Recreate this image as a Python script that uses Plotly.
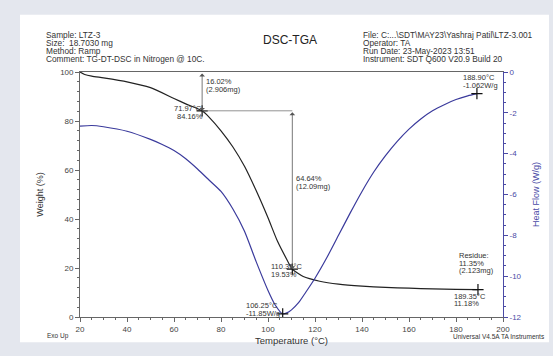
import plotly.graph_objects as go

# ---------------- data ----------------
tga_temp = [20, 22, 25, 30, 40, 50, 60, 65, 71.97, 75, 80, 85, 90, 95, 100, 104, 108, 110.35,
            115, 122, 130, 140, 150, 160, 170, 180, 189.35]
tga_weight = [100, 99.0, 98.3, 97.6, 96.0, 93.6, 89.2, 87.0, 84.16, 81.5, 76.0, 69.5, 61.5, 51.5,
              40.5, 31, 23.5, 19.53, 16.5, 14.6, 13.4, 12.6, 12.1, 11.75, 11.5, 11.3, 11.18]

dsc_temp = [20, 25, 30, 40, 50, 55, 60, 65, 70, 75, 80, 85, 90, 95, 100, 103, 106.25,
            108, 110, 113, 116, 120, 125, 130, 135, 140, 145, 150, 155, 160, 165, 170, 175,
            180, 185, 188.9]
dsc_flow = [-2.65, -2.62, -2.68, -2.9, -3.3, -3.55, -3.85, -4.25, -4.75, -5.3, -5.85, -6.7,
            -7.8, -9.3, -10.7, -11.4, -11.85, -11.8, -11.65, -11.3, -10.8, -10.1, -9.1, -8.0,
            -6.9, -5.85, -4.9, -4.1, -3.4, -2.8, -2.3, -1.9, -1.6, -1.35, -1.17, -1.062]

tga_mark_t = [71.97, 110.35, 189.35]
tga_mark_w = [84.16, 19.53, 11.18]
dsc_mark_t = [106.25, 188.9]
dsc_mark_h = [-11.85, -1.062]

x_ticks = [20, 40, 60, 80, 100, 120, 140, 160, 180, 200]
y_ticks = [0, 20, 40, 60, 80, 100]
y2_ticks = [0, -2, -4, -6, -8, -10, -12]
y2_labels = ["0", "-2", "-4", "-6", "-8", "-10", "-12"]

header_left = ["Sample: LTZ-3", "Size:  18.7030 mg", "Method: Ramp",
               "Comment: TG-DT-DSC in Nitrogen @ 10C."]
header_right = ["File: C:...\\SDT\\MAY23\\Yashraj Patil\\LTZ-3.001", "Operator: TA",
                "Run Date: 23-May-2023 13:51", "Instrument: SDT Q600 V20.9 Build 20"]

# ---------------- layout helpers ----------------
W, H = 553, 356
L, R, T, B = 80, 503, 72, 325
FONT = "Arial, Liberation Sans, sans-serif"
GRAY = "#666666"
BLUE = "#4a4aa6"
CURVE_BLUE = "#3a3a9c"


def fx(p):
    return (p - L) / (R - L)


def fy(p):
    return (B - p) / (B - T)


fig = go.Figure()

fig.add_trace(go.Scatter(x=tga_temp, y=tga_weight, mode="lines",
                         line=dict(color="#222222", width=1.2, shape="spline", smoothing=0.6),
                         hoverinfo="skip", showlegend=False))
fig.add_trace(go.Scatter(x=dsc_temp, y=dsc_flow, mode="lines", yaxis="y2",
                         line=dict(color=CURVE_BLUE, width=1.2, shape="spline", smoothing=0.6),
                         hoverinfo="skip", showlegend=False))
fig.add_trace(go.Scatter(x=tga_mark_t, y=tga_mark_w, mode="markers",
                         marker=dict(symbol="cross-thin", size=8, line=dict(color="#111", width=1.2)),
                         hoverinfo="skip", showlegend=False))
fig.add_trace(go.Scatter(x=dsc_mark_t, y=dsc_mark_h, mode="markers", yaxis="y2",
                         marker=dict(symbol="cross-thin", size=8, line=dict(color="#111", width=1.2)),
                         hoverinfo="skip", showlegend=False))

annotations = []


def txt(text, xp, yp, size=8.3, anchor="left", color="#333333"):
    annotations.append(dict(text=text, x=fx(xp), y=fy(yp), xref="paper", yref="paper",
                            xanchor=anchor, yanchor="middle", showarrow=False, borderpad=0,
                            font=dict(family=FONT, size=size, color=color)))


for i, s in enumerate(header_left):
    txt(s, 45, 34 + i * 8.2)
for i, s in enumerate(header_right):
    txt(s, 362, 34 + i * 8.2)
txt("DSC-TGA", 290, 39, size=12, anchor="center", color="#222")

txt("Exo Up", 46, 345, size=6.5)
txt("Universal V4.5A TA Instruments", 546, 345.5, size=6.5, anchor="right")

# data labels
AF = 7.5
txt("16.02%", 205, 82, AF)
txt("(2.906mg)", 205, 90, AF)
txt("71.97°C", 173, 110, AF)
txt("84.16%", 176, 118, AF)
txt("64.64%", 295, 182, AF)
txt("(12.09mg)", 295, 190, AF)
txt("110.35°C", 270, 273, AF)
txt("19.53%", 270, 281, AF)
txt("106.25°C", 245, 313, AF)
txt("-11.85W/g", 245, 321, AF)
txt("188.90°C", 462, 78, AF)
txt("-1.062W/g", 462, 85.5, AF)
txt("Residue:", 458, 262, AF)
txt("11.35%", 458, 269.5, AF)
txt("(2.123mg)", 458, 277, AF)
txt("189.35°C", 453, 304, AF)
txt("11.18%", 453, 311.5, AF)

# step-change arrows
for (xa, y0, y1) in [(tga_mark_t[0], 100, tga_mark_w[0]), (tga_mark_t[1], tga_mark_w[0], tga_mark_w[1])]:
    annotations.append(dict(x=xa, y=y1, ax=xa, ay=y0, xref="x", yref="y", axref="x", ayref="y",
                            text="", showarrow=True, arrowhead=1, startarrowhead=1,
                            arrowside="end+start", arrowsize=1.2, startarrowsize=1.2,
                            arrowwidth=0.8, arrowcolor="#555555"))

shapes = [
    dict(type="rect", xref="paper", yref="paper", x0=fx(20), x1=fx(549), y0=fy(351), y1=fy(13),
         fillcolor="white", line=dict(width=0), layer="below"),
    dict(type="line", xref="x", yref="y", x0=tga_mark_t[0], x1=tga_mark_t[1],
         y0=tga_mark_w[0], y1=tga_mark_w[0], line=dict(color="#777777", width=0.8)),
]

axis_font = dict(family=FONT, size=8, color="#444444")

fig.update_layout(
    width=W, height=H,
    margin=dict(l=L, r=W - R, t=T, b=H - B),
    paper_bgcolor="#e4e7ee", plot_bgcolor="white",
    showlegend=False,
    annotations=annotations,
    shapes=shapes,
    xaxis=dict(range=[20, 200], tickvals=x_ticks, ticks="outside", ticklen=4, tickwidth=0.8,
               tickcolor=GRAY, showline=True, linecolor=GRAY, linewidth=0.8, mirror=True,
               showgrid=False, zeroline=False, tickfont=axis_font,
               minor=dict(dtick=5, ticks="outside", ticklen=2, tickcolor=GRAY, showgrid=False),
               title=dict(text="Temperature (°C)", font=dict(family=FONT, size=9.5, color="#333"),
                          standoff=4)),
    yaxis=dict(range=[0, 100], tickvals=y_ticks, ticks="outside", ticklen=4, tickwidth=0.8,
               tickcolor=GRAY, showline=True, linecolor=GRAY, linewidth=0.8,
               showgrid=False, zeroline=False, tickfont=axis_font,
               minor=dict(dtick=4, ticks="outside", ticklen=2, tickcolor=GRAY, showgrid=False),
               title=dict(text="Weight (%)", font=dict(family=FONT, size=9, color="#333"),
                          standoff=14)),
    yaxis2=dict(range=[-12, 0], overlaying="y", side="right", tickvals=y2_ticks, ticktext=y2_labels,
                ticks="outside", ticklen=4, tickwidth=0.8, tickcolor=BLUE, showline=True,
                linecolor=BLUE, linewidth=0.8, showgrid=False, zeroline=False,
                tickfont=dict(family=FONT, size=8, color=BLUE),
                minor=dict(dtick=0.5, ticks="outside", ticklen=2, tickcolor=BLUE, showgrid=False),
                title=dict(text="Heat Flow (W/g)", font=dict(family=FONT, size=9, color=BLUE),
                           standoff=12)),
)

fig.write_html("out.html", config={"displayModeBar": False},
               post_script="document.body.style.margin='0';document.body.style.padding='0';"
                           "document.documentElement.style.overflow='hidden';")
